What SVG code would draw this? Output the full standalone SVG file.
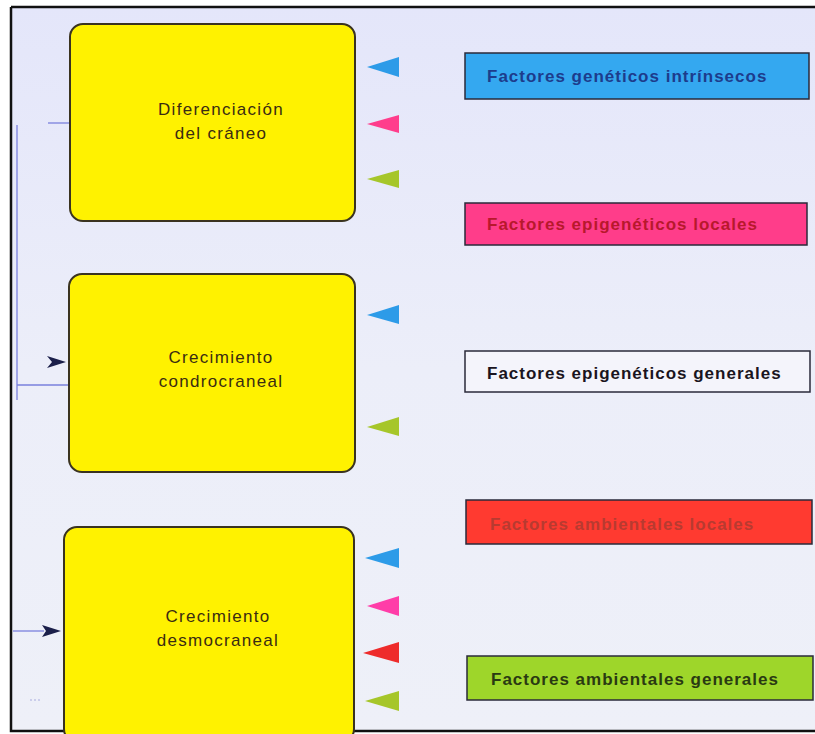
<svg xmlns="http://www.w3.org/2000/svg" width="815" height="734" viewBox="0 0 815 734">
<defs>
<linearGradient id="bg" x1="0" y1="0" x2="0" y2="1">
<stop offset="0" stop-color="#e4e6fa"/>
<stop offset="0.5" stop-color="#eceef9"/>
<stop offset="1" stop-color="#eef0f8"/>
</linearGradient>
<style>
.node rect.box{fill:#fff200;stroke:#3a3320;stroke-width:2}
.ntext{font-family:"Liberation Sans",Arial,sans-serif;font-size:17px;letter-spacing:1.3px;fill:#3a2c12;text-anchor:middle}
.ftext{font-family:"Liberation Sans",Arial,sans-serif;font-size:17px;letter-spacing:1px;font-weight:bold}
.lbl{stroke:#2a2a3a;stroke-width:1.5}
.link{stroke:#7a80dd;stroke-width:1.3;fill:none}
</style>
</defs>
<rect x="0" y="0" width="815" height="734" fill="#ffffff"/>
<rect x="11" y="7" width="804" height="724" fill="url(#bg)"/>
<path d="M11 7H815M11 7V731H815" fill="none" stroke="#111" stroke-width="2.5"/>

<g id="connectors">
<path class="link" d="M17 125V400"/>
<path class="link" d="M48 123H70"/>
<path class="link" d="M17 385H69"/>
<path d="M47 356L66 362L47 368L52 362Z" fill="#1b1f4a"/>
<path class="link" d="M13 631H44"/>
<path d="M42 625L61 631L42 637L46 631Z" fill="#1b1f4a"/>
<path d="M30 700H41" stroke="#a8acde" stroke-width="1" stroke-dasharray="2 2"/>
<path d="M367 67L399 57V77Z" fill="#2d9be8"/>
<path d="M367 124L399 115V133Z" fill="#ff3d8c"/>
<path d="M367 179L399 170V188Z" fill="#a6c62a"/>
<path d="M367 315L399 305V324Z" fill="#2d9be8"/>
<path d="M367 427L399 417V436Z" fill="#a6c62a"/>
<path d="M365 558L399 548V568Z" fill="#2d9be8"/>
<path d="M367 606L399 596V616Z" fill="#ff3da8"/>
<path d="M363 653L399 642V663Z" fill="#ee2b2b"/>
<path d="M365 701L399 691V711Z" fill="#a6c62a"/>
</g>

<g id="n-diferenciacion" class="node">
<rect class="box" x="70" y="24" width="285" height="197" rx="13"/>
<text class="ntext" x="221" y="115">Diferenciación</text>
<text class="ntext" x="221" y="139">del cráneo</text>
</g>
<g id="n-condrocraneal" class="node">
<rect class="box" x="69" y="274" width="286" height="198" rx="13"/>
<text class="ntext" x="221" y="363">Crecimiento</text>
<text class="ntext" x="221" y="387">condrocraneal</text>
</g>
<g id="n-desmocraneal" class="node">
<rect class="box" x="64" y="527" width="290" height="215" rx="13"/>
<text class="ntext" x="218" y="622">Crecimiento</text>
<text class="ntext" x="218" y="646">desmocraneal</text>
</g>

<g id="f-geneticos" class="node">
<rect class="lbl" x="465" y="53" width="344" height="46" fill="#34a8f0"/>
<text class="ftext" x="487" y="82" fill="#1d3c8c">Factores genéticos intrínsecos</text>
</g>
<g id="f-epi-locales" class="node">
<rect class="lbl" x="465" y="203" width="342" height="42" fill="#ff3d8a" stroke="#5a1830"/>
<text class="ftext" x="487" y="230" fill="#b8182c">Factores epigenéticos locales</text>
</g>
<g id="f-epi-generales" class="node">
<rect class="lbl" x="465" y="351" width="345" height="41" fill="#f4f4fb"/>
<text class="ftext" x="487" y="379" fill="#1a1420">Factores epigenéticos generales</text>
</g>
<g id="f-amb-locales" class="node">
<rect class="lbl" x="466" y="500" width="346" height="44" fill="#ff3a30" stroke="#5a1a1a"/>
<text class="ftext" x="490" y="530" fill="#b83a30">Factores ambientales locales</text>
</g>
<g id="f-amb-generales" class="node">
<rect class="lbl" x="467" y="656" width="346" height="44" fill="#9ed62a" stroke="#2a3a10"/>
<text class="ftext" x="491" y="685" fill="#2a3a12">Factores ambientales generales</text>
</g>
</svg>
